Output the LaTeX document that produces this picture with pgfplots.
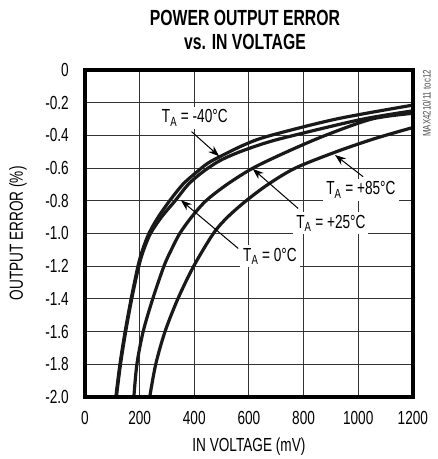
\documentclass[border=0pt]{standalone}
\usepackage{fontspec}
\setmainfont{Liberation Sans}[FakeStretch=0.72]
\usepackage{pgfplots}
\pgfplotsset{compat=1.18}
\usetikzlibrary{arrows.meta}
\begin{document}
\begin{tikzpicture}
\begin{axis}[
  scale only axis, width=328bp, height=327bp,
  xmin=0, xmax=1200, ymin=-2, ymax=0,
  clip mode=individual,
  xtick={0,200,400,600,800,1000,1200},
  xticklabels={0,200,400,600,800,1000,1200},
  ytick={-2,-1.8,-1.6,-1.4,-1.2,-1,-0.8,-0.6,-0.4,-0.2,0},
  yticklabels={-2.0,-1.8,-1.6,-1.4,-1.2,-1.0,-0.8,-0.6,-0.4,-0.2,0},
  grid=major, major grid style={black!80, line width=1bp},
  major tick length=0,
  tick label style={font=\fontsize{19}{19}\selectfont, inner sep=0pt},
  yticklabel style={xshift=-16bp},
  xticklabel style={yshift=-14bp},
  curve/.style={black!90, mark=none, line width=3.2bp, smooth, tension=0.5},
]
% T_A = -40 C
\addplot[curve] coordinates {(113,-2.0)(128,-1.8)(147,-1.6)(169,-1.4)(194,-1.2)(211,-1.1)(234,-1.0)(268,-0.9)(310,-0.8)(358,-0.7)(405,-0.63)(450,-0.57)(500,-0.525)(580,-0.46)(670,-0.405)(920,-0.3)(1200,-0.215)};
% T_A = 0 C
\addplot[curve] coordinates {(115,-2.0)(130,-1.8)(149,-1.6)(171,-1.4)(197,-1.2)(215,-1.1)(240,-1.0)(280,-0.9)(330,-0.8)(378,-0.7)(430,-0.625)(490,-0.558)(560,-0.505)(650,-0.452)(740,-0.41)(1010,-0.303)(1200,-0.25)};
% T_A = +25 C
\addplot[curve] coordinates {(179,-2.0)(190,-1.8)(213,-1.6)(248,-1.4)(289,-1.2)(316,-1.1)(347,-1.0)(390,-0.9)(443,-0.8)(520,-0.7)(615,-0.6)(740,-0.5)(880,-0.4)(1050,-0.3)(1200,-0.265)};
% T_A = +85 C
\addplot[curve] coordinates {(237,-2.0)(259,-1.8)(293,-1.6)(340,-1.4)(398,-1.2)(470,-1.0)(522,-0.9)(590,-0.8)(670,-0.7)(770,-0.6)(920,-0.5)(1060,-0.42)(1200,-0.352)};
\tikzset{lab/.style={fill=white, inner sep=3bp, font=\fontsize{19}{19}\selectfont},
        arr/.style={-{Stealth[length=11bp,width=8bp]}, line width=1bp, black}}
\draw[arr] (axis cs:390,-0.377) -- (axis cs:491,-0.528);
\draw[arr] (axis cs:561,-1.092) -- (axis cs:351,-0.797);
\draw[arr] (axis cs:780,-0.847) -- (axis cs:614,-0.605);
\draw[arr] (axis cs:1018,-0.653) -- (axis cs:915,-0.52);
\node[lab] at (axis cs:402,-0.293) {T\textsubscript{A} = -40°C};
\node[lab] at (axis cs:1010,-0.734) {T\textsubscript{A} = +85°C};
\node[lab] at (axis cs:900,-0.937) {T\textsubscript{A} = +25°C};
\node[lab] at (axis cs:677,-1.139) {T\textsubscript{A} = 0°C};
\draw[line width=4bp, black] (rel axis cs:0,0) rectangle (rel axis cs:1,1);
\end{axis}
\node[rotate=90, font=\fontsize{19}{19}\selectfont] at ([xshift=-67bp]current axis.west) {OUTPUT ERROR (\%)};
\node[font=\fontsize{19}{19}\selectfont] at ([yshift=-50bp]current axis.south) {IN VOLTAGE (mV)};
\node[font=\fontsize{22}{25}\selectfont\bfseries, align=center] at ([yshift=40bp,xshift=-4bp]current axis.north) {POWER OUTPUT ERROR\\vs. IN VOLTAGE};
\node[rotate=90, anchor=south east, font=\fontsize{11}{11}\selectfont, text=black!70, inner sep=0pt] at ([xshift=18bp]current axis.north east) {MAX4210/11 toc12};
\path ([shift={(-85bp,-62bp)}]current axis.south west) rectangle ([shift={(25bp,70bp)}]current axis.north east);
\end{tikzpicture}
\end{document}
